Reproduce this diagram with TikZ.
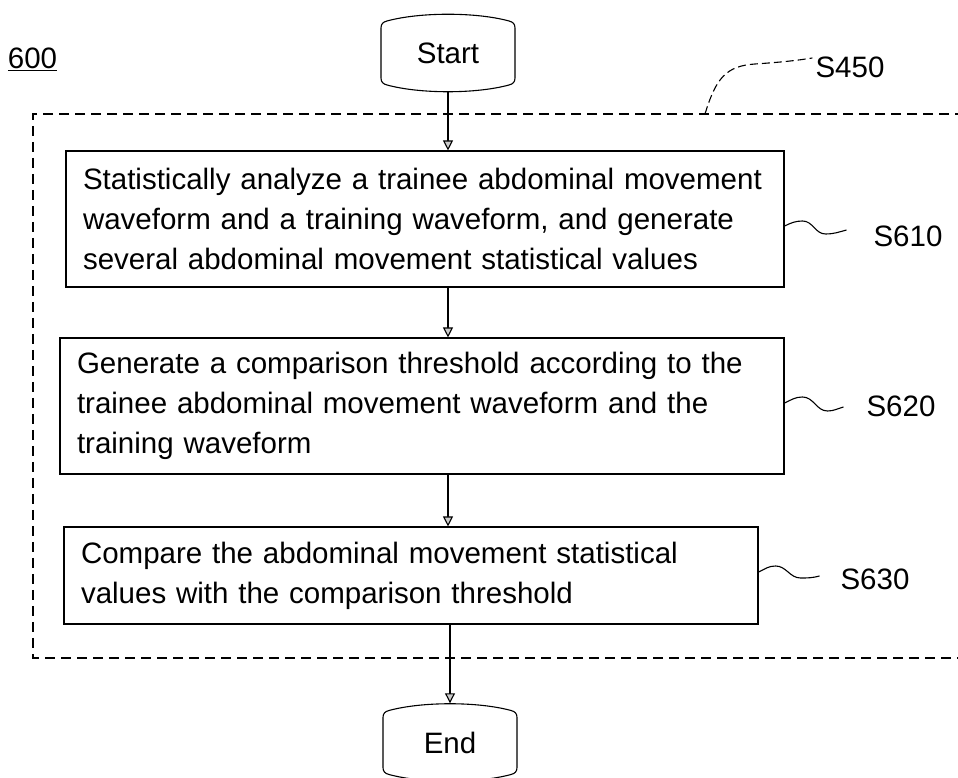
\documentclass[tikz,border=0pt]{standalone}
\usepackage{fontspec}
\setmainfont{Liberation Sans}
\usetikzlibrary{arrows.meta,calc}
\newcommand\termoutline[1]{\draw[line, shift={(#1.center)}] (-67,25) -- (-67,-25) .. controls (-67,-29) and (-65,-31) .. (-61,-32) .. controls (-28,-41) and (28,-41) .. (61,-32) .. controls (65,-31) and (67,-29) .. (67,-25) -- (67,25) .. controls (67,29) and (65,31) .. (61,32) .. controls (28,41) and (-28,41) .. (-61,32) .. controls (-65,31) and (-67,29) .. (-67,25) -- cycle;}
\begin{document}
\begin{tikzpicture}[x=1pt,y=1pt,
  line/.style={line width=1.1pt},
  box/.style={draw, line width=1.1pt, inner xsep=17pt, inner ysep=0pt, align=left, font=\fontsize{29.5}{40}\selectfont},
  term/.style={inner sep=0pt, minimum width=134pt, minimum height=78pt, font=\fontsize{29.5}{36}\selectfont},
  lbl/.style={font=\fontsize{29.5}{36}\selectfont, inner sep=0pt},
  arr/.style={line width=1.1pt, -{Triangle[open,length=10pt,width=10pt,fill=gray!40]}},
  frame/.style={line width=1.1pt, dash pattern=on 10pt off 6pt},
  squig/.style={line width=1.1pt}
]
\useasboundingbox (0,0) rectangle (958,778);

% label 600
\node[lbl] (n600) at (32.5,719) {\underline{600}};

% terminals
\node[term] (start) at (448,725) {Start};
\termoutline{start}
\node[term] (end) at (450,35.5) {End};
\termoutline{end}

% dashed frame
\draw[frame] (965,664) -- (33,664) -- (33,120) -- (965,120);
\coordinate (s450a) at (705,664);
\node[lbl] (s450) at (850,711) {S450};
\draw[line, dash pattern=on 8pt off 4pt] (s450a) .. controls (716,700) and (726,712) .. (755,714) .. controls (785,716) and (800,718) .. ([xshift=-3pt,yshift=9pt]s450.west);

% step boxes
\node[box, minimum width=718pt, minimum height=136pt, text width=684pt] (b1) at (425,559)
  {Statistically analyze a trainee abdominal movement\\waveform and a training waveform, and generate\\several abdominal movement statistical values};
\node[box, minimum width=724pt, minimum height=136pt, text width=690pt] (b2) at (422,372)
  {Generate a comparison threshold according to the\\trainee abdominal movement waveform and the\\training waveform};
\node[box, minimum width=694pt, minimum height=97pt, text width=660pt] (b3) at (411,202.5)
  {Compare the abdominal movement statistical\\values with the comparison threshold};

% step labels
\node[lbl] (s610) at (908,542) {S610};
\node[lbl] (s620) at (901,372) {S620};
\node[lbl] (s630) at (875,199) {S630};

% squiggles
\draw[squig] ([yshift=-7pt]b1.east) to[out=25,in=180] ++(18,5) to[out=0,in=180] ++(23,-13) to[out=0,in=195] ++(21,4) coordinate (q1);
\draw[squig] ([yshift=3pt]b2.east) to[out=25,in=180] ++(18,6) to[out=0,in=180] ++(25,-14) to[out=0,in=195] ++(16,4) coordinate (q2);
\draw[squig] ([yshift=3.5pt]b3.east) to[out=25,in=180] ++(17,6) to[out=0,in=180] ++(25,-12) to[out=0,in=195] ++(19,2) coordinate (q3);

% arrows
\draw[arr] (start.south) -- (start.south |- b1.north);
\draw[arr] (b1.south -| start.south) -- (b2.north -| start.south);
\draw[arr] (b2.south -| start.south) -- (b3.north -| start.south);
\draw[arr] (b3.south -| end.north) -- (end.north);
\end{tikzpicture}
\end{document}
